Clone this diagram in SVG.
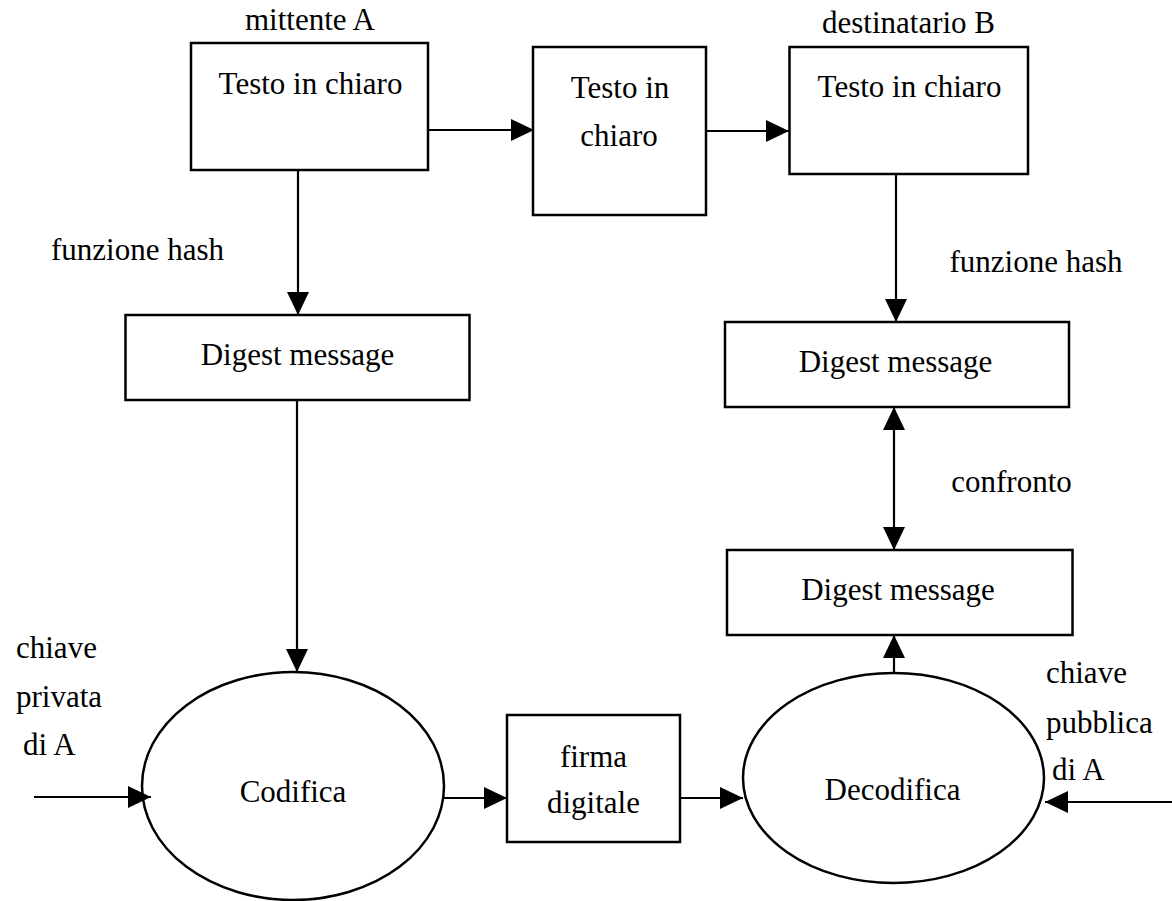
<svg xmlns="http://www.w3.org/2000/svg" width="1172" height="901" viewBox="0 0 1172 901">
  <style>
    .box { fill: #fff; stroke: #000; stroke-width: 2.5; }
    .lbl { font-family: "Liberation Serif", "Times New Roman", serif; font-size: 31px; fill: #000; }
    .mid { text-anchor: middle; }
    .conn { fill: none; stroke: #000; stroke-width: 2.2; marker-end: url(#head); }
  </style>
  <defs>
    <marker id="head" markerUnits="userSpaceOnUse" markerWidth="24" markerHeight="24" refX="23" refY="11" orient="auto-start-reverse" viewBox="0 0 24 22">
      <path d="M0,0 L23,11 L0,22 z" fill="#000"/>
    </marker>
  </defs>
  <rect width="1172" height="901" fill="#fff"/>

  <!-- free labels -->
  <text class="lbl mid" x="310" y="30">mittente A</text>
  <text class="lbl mid" x="908.5" y="33">destinatario B</text>
  <text class="lbl mid" x="137.5" y="260">funzione hash</text>
  <text class="lbl mid" x="1036" y="272">funzione hash</text>
  <text class="lbl mid" x="1011.5" y="492">confronto</text>
  <text class="lbl" x="16" y="658">chiave</text>
  <text class="lbl" x="16" y="707">privata</text>
  <text class="lbl" x="23" y="755">di A</text>
  <text class="lbl" x="1046" y="683">chiave</text>
  <text class="lbl" x="1046" y="733">pubblica</text>
  <text class="lbl" x="1052" y="780">di A</text>

  <g id="plain-sender">
    <rect class="box" x="191" y="43" width="237" height="127"/>
    <text class="lbl mid" x="310.5" y="94">Testo in chiaro</text>
  </g>
  <g id="plain-transit">
    <rect class="box" x="533" y="47" width="173" height="168"/>
    <text class="lbl mid" x="620" y="98">Testo in</text>
    <text class="lbl mid" x="619" y="146">chiaro</text>
  </g>
  <g id="plain-receiver">
    <rect class="box" x="789.5" y="47" width="238.5" height="127"/>
    <text class="lbl mid" x="909.5" y="97">Testo in chiaro</text>
  </g>
  <g id="digest-sender">
    <rect class="box" x="125.5" y="315" width="344" height="85"/>
    <text class="lbl mid" x="297.5" y="365">Digest message</text>
  </g>
  <g id="digest-receiver">
    <rect class="box" x="725" y="322" width="344" height="85"/>
    <text class="lbl mid" x="895.5" y="372">Digest message</text>
  </g>
  <g id="digest-decoded">
    <rect class="box" x="727" y="550" width="345.5" height="85"/>
    <text class="lbl mid" x="898" y="600">Digest message</text>
  </g>
  <g id="codifica">
    <ellipse class="box" cx="293" cy="786" rx="151" ry="114"/>
    <text class="lbl mid" x="293" y="802">Codifica</text>
  </g>
  <g id="firma">
    <rect class="box" x="507" y="715" width="173" height="127"/>
    <text class="lbl mid" x="593.5" y="767">firma</text>
    <text class="lbl mid" x="593.5" y="813">digitale</text>
  </g>
  <g id="decodifica">
    <ellipse class="box" cx="893.5" cy="778" rx="150.5" ry="105"/>
    <text class="lbl mid" x="892.5" y="800">Decodifica</text>
  </g>

  <g id="connectors">
    <path class="conn" d="M428,130 H534"/>
    <path class="conn" d="M706,131 H789"/>
    <path class="conn" d="M298,170 V315"/>
    <path class="conn" d="M297,400 V672"/>
    <path class="conn" d="M896,174 V322"/>
    <path class="conn" d="M894,407 V550" marker-start="url(#head)"/>
    <path class="conn" d="M894,673 V635"/>
    <path class="conn" d="M444,798 H507"/>
    <path class="conn" d="M680,798 H743"/>
    <path class="conn" d="M34,797 H151"/>
    <path class="conn" d="M1172,802 H1045"/>
  </g>
</svg>
